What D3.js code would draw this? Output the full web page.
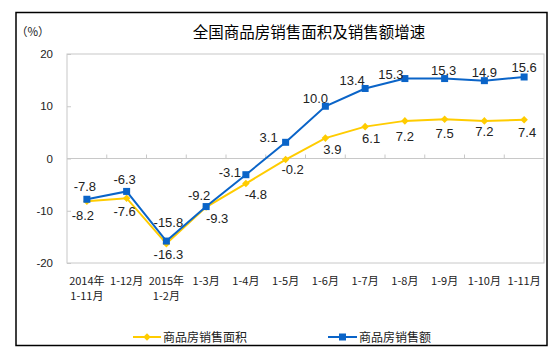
<!DOCTYPE html>
<html><head><meta charset="utf-8">
<script src="https://cdn.jsdelivr.net/npm/d3@7/dist/d3.min.js"></script>
<style>body{margin:0;background:#fff}svg{display:block}</style>
</head><body><svg id="c" width="553" height="354"></svg>
<script>
const categories = [["2014年","1-11月"],["1-12月"],["2015年","1-2月"],["1-3月"],["1-4月"],["1-5月"],["1-6月"],["1-7月"],["1-8月"],["1-9月"],["1-10月"],["1-11月"]];
const areaGrowth = [-8.2,-7.6,-16.3,-9.3,-4.8,-0.2,3.9,6.1,7.2,7.5,7.2,7.4];
const salesGrowth = [-7.8,-6.3,-15.8,-9.2,-3.1,3.1,10.0,13.4,15.3,15.3,14.9,15.6];
const yTicks = [-20,-10,0,10,20];
const seriesNames = ["商品房销售面积","商品房销售额"];
const title = "全国商品房销售面积及销售额增速";

// label offsets (layout only)
const areaLabelOff = [[-4,14],[-2,13],[2,10],[11,11],[10,10],[7,9],[7,11],[6,11],[0,15],[0,14],[0,10],[3,12]];
const salesLabelOff = [[-2,-13],[-2,-12],[2,-19],[-7,-12],[-16,-3],[-17,-5],[-10,-8],[-13,-8],[-14,-5],[-1,-9],[0,-9],[0,-10]];

const svg = d3.select("#c");
const L=67,R=544,T=54,B=263;
const x = d3.scaleBand().domain(d3.range(categories.length)).range([L,R]);
const y = d3.scaleLinear().domain([-20,20]).range([B,T]);
const cx = i => x(i)+x.bandwidth()/2;
const blue="#0a64c8", yellow="#ffcc00";
const sans="'Liberation Sans', Arial, sans-serif";
const cjk="'Noto Sans CJK SC', sans-serif";

svg.append("rect").attr("x",16).attr("y",12.5).attr("width",531).attr("height",333).attr("fill","none").attr("stroke","#000").attr("stroke-width",1.5);
svg.append("rect").attr("x",L).attr("y",T).attr("width",R-L).attr("height",B-T).attr("fill","none").attr("stroke","#c8c8c8").attr("stroke-width",1);

svg.append("text").attr("x",309).attr("y",38).attr("text-anchor","middle").attr("font-family",cjk).attr("font-size",15.5).attr("fill","#000").text(title);
svg.append("text").attr("x",16).attr("y",36).attr("font-family",cjk).attr("font-size",11.5).attr("fill","#222").text("（%）");

// y axis
const ya = svg.append("g").attr("transform",`translate(${L},0)`)
  .call(d3.axisRight(y).tickValues(yTicks).tickSize(4).tickFormat(""));
ya.select(".domain").remove();
ya.selectAll("line").attr("stroke","#c8c8c8");
svg.append("g").selectAll("text").data(yTicks).join("text")
  .attr("x",53).attr("y",d=>y(d)+4).attr("text-anchor","end")
  .attr("font-family",sans).attr("font-size",11.5).attr("fill","#222").text(d=>d);

// zero line with category ticks
svg.append("line").attr("x1",L).attr("x2",R).attr("y1",y(0)).attr("y2",y(0)).attr("stroke","#c8c8c8");
svg.append("g").selectAll("line").data(d3.range(1,categories.length)).join("line")
  .attr("x1",i=>x(i)).attr("x2",i=>x(i)).attr("y1",y(0)).attr("y2",y(0)-4).attr("stroke","#c8c8c8");

// x labels
const xl = svg.append("g").selectAll("text").data(categories).join("text")
  .attr("x",(d,i)=>cx(i)).attr("y",285).attr("text-anchor","middle")
  .attr("font-family",cjk).attr("font-size",11).attr("fill","#222");
xl.selectAll("tspan").data(d=>d).join("tspan").attr("x",function(){return this.parentNode.getAttribute("x");})
  .attr("dy",(d,i)=>i?15:0).text(d=>d);

const line = d3.line().x((d,i)=>cx(i)).y(d=>y(d));
svg.append("path").datum(areaGrowth).attr("d",line).attr("fill","none").attr("stroke",yellow).attr("stroke-width",2);
svg.append("path").datum(salesGrowth).attr("d",line).attr("fill","none").attr("stroke",blue).attr("stroke-width",2);

const diamond = d3.symbol().type(d3.symbolDiamond2).size(36);
svg.append("g").selectAll("path").data(areaGrowth).join("path")
  .attr("transform",(d,i)=>`translate(${cx(i)},${y(d)})`).attr("d",diamond).attr("fill",yellow);
svg.append("g").selectAll("rect").data(salesGrowth).join("rect")
  .attr("x",(d,i)=>cx(i)-3.5).attr("y",d=>y(d)-3.5).attr("width",7).attr("height",7).attr("fill",blue);

const fmt = d => d.toFixed(1);
svg.append("g").selectAll("text").data(areaGrowth).join("text")
  .attr("x",(d,i)=>cx(i)+areaLabelOff[i][0]).attr("y",(d,i)=>y(d)+areaLabelOff[i][1]+5)
  .attr("text-anchor","middle").attr("font-family",sans).attr("font-size",13).attr("fill","#222").text(fmt);
svg.append("g").selectAll("text").data(salesGrowth).join("text")
  .attr("x",(d,i)=>cx(i)+salesLabelOff[i][0]).attr("y",(d,i)=>y(d)+salesLabelOff[i][1]+5)
  .attr("text-anchor","middle").attr("font-family",sans).attr("font-size",13).attr("fill","#222").text(fmt);

// legend
const lg = [{x1:133,x2:161,c:yellow,t:seriesNames[0],m:"d"},{x1:328,x2:357,c:blue,t:seriesNames[1],m:"s"}];
lg.forEach(o=>{
  svg.append("line").attr("x1",o.x1).attr("x2",o.x2).attr("y1",337).attr("y2",337).attr("stroke",o.c).attr("stroke-width",2);
  const mx=(o.x1+o.x2)/2;
  if(o.m==="d") svg.append("path").attr("transform",`translate(${mx},337)`).attr("d",diamond).attr("fill",o.c);
  else svg.append("rect").attr("x",mx-3.5).attr("y",333.5).attr("width",7).attr("height",7).attr("fill",o.c);
  svg.append("text").attr("x",o.x2+2).attr("y",341.5).attr("font-family",cjk).attr("font-size",12).attr("fill","#222").text(o.t);
});
</script></body></html>
